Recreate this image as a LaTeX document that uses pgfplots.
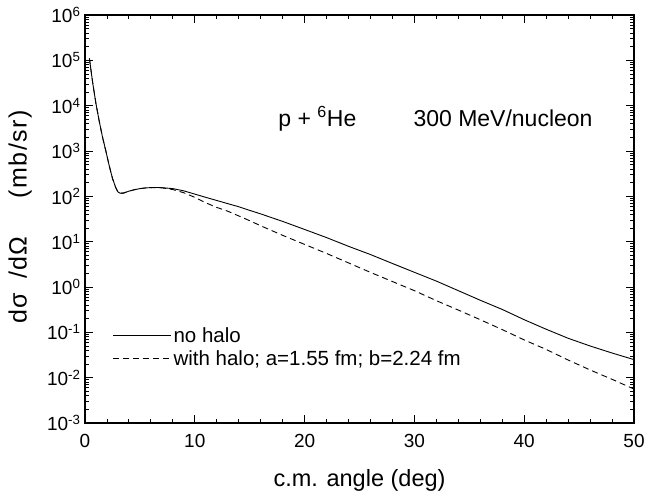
\documentclass[border=0pt]{standalone}
\usepackage{pgfplots}
\pgfplotsset{compat=1.18}
\usepackage{fontspec}
\setmainfont{Liberation Sans}

\begin{document}
\begin{tikzpicture}
\path[use as bounding box] (-85pt,-72pt) rectangle (562pt,423pt);
\begin{axis}[
    width=549pt, height=408pt, scale only axis,
    xmin=0, xmax=50,
    ymode=log, ymin=1e-3, ymax=1e6,
    xtick={0,10,20,30,40,50},
    minor x tick num=4,
    ytick={1e-3,1e-2,1e-1,1,1e1,1e2,1e3,1e4,1e5,1e6},
    yticklabels={10\textsuperscript{-3},10\textsuperscript{-2},10\textsuperscript{-1},10\textsuperscript{0},10\textsuperscript{1},10\textsuperscript{2},10\textsuperscript{3},10\textsuperscript{4},10\textsuperscript{5},10\textsuperscript{6}},
    /pgf/number format/assume math mode=true,
    tick align=inside,
    major tick length=8pt, minor tick length=4.5pt,
    axis line style={line width=1.2pt},
    every tick/.style={black, line width=0.9pt},
    tick label style={font=\fontsize{19}{22}\selectfont},
    xticklabel style={yshift=-8pt},
    yticklabel style={xshift=-1pt},
    xlabel={c.m. angle (deg)},
    ylabel={dσ\hspace{14pt}/dΩ\hspace{38pt}(mb/sr)},
    every axis x label/.style={at={(axis description cs:0.5,-0.14)}, anchor=center,
      font=\fontsize{23.5}{27}\selectfont},
    every axis y label/.style={at={(axis description cs:-0.118,0.505)}, rotate=90, anchor=center,
      font=\fontsize{25}{28}\selectfont\addfontfeature{LetterSpace=6}},
    legend style={draw=none, fill=none, inner sep=0pt, at={(axis description cs:0.05,0.24)}, anchor=north west,
      font=\fontsize{20.5}{23}\selectfont, row sep=3pt},
    legend cell align=left,
    legend image code/.code={\draw[#1] (0pt,0pt) -- (48pt,0pt); \path (0pt,0pt) -- (58pt,0pt);},
]
\addplot[black, line width=0.9pt] coordinates {
(0.4,1.1e5) (0.7,3.2e4) (1.0,1.1e4) (1.3,4.5e3) (1.6,2.0e3) (1.9,1.0e3)
(2.2,480) (2.5,250) (2.8,155) (3.0,125) (3.2,117) (3.5,118) (4.0,130)
(4.5,140) (5,148) (5.5,153) (6,156) (6.5,157) (7,155) (8,148) (9,132)
(10,112) (11,95) (12,81) (13,69) (14,59) (15,49) (16,41) (18,28) (20,18.6)
(22,12.3) (24,7.9) (26,5.2) (28,3.3) (30,2.11) (32,1.35) (34,0.83) (36,0.51)
(38,0.32) (40,0.19) (42,0.117) (44,0.074) (46,0.050) (48,0.035) (50,0.025)
};
\addlegendentry{no halo}
\addplot[black, line width=0.9pt, dash pattern=on 6pt off 4pt] coordinates {
(0.4,1.1e5) (0.7,3.2e4) (1.0,1.1e4) (1.3,4.5e3) (1.6,2.0e3) (1.9,1.0e3)
(2.2,480) (2.5,250) (2.8,155) (3.0,125) (3.2,117) (3.5,118) (4.0,130)
(4.5,140) (5,148) (5.5,153) (6,155) (6.5,156) (7,154) (8,141) (9,120)
(10,95) (11,72) (12,57) (13,47) (14,37) (15,29) (16,22.4) (18,13.8) (20,8.7)
(22,5.5) (24,3.4) (26,2.1) (28,1.32) (30,0.83) (32,0.50) (34,0.31) (36,0.19)
(38,0.115) (40,0.068) (42,0.042) (44,0.0245) (46,0.0148) (48,0.0092) (50,0.0056)
};
\addlegendentry{with halo; a=1.55 fm; b=2.24 fm}
\node[anchor=base west, font=\fontsize{23}{27}\selectfont] at (axis cs:17.3,3.4e3) {p + \textsuperscript{6}He};
\node[anchor=base west, font=\fontsize{23}{27}\selectfont] at (axis cs:29.6,3.4e3) {300 MeV/nucleon};
\end{axis}
\end{tikzpicture}
\end{document}
